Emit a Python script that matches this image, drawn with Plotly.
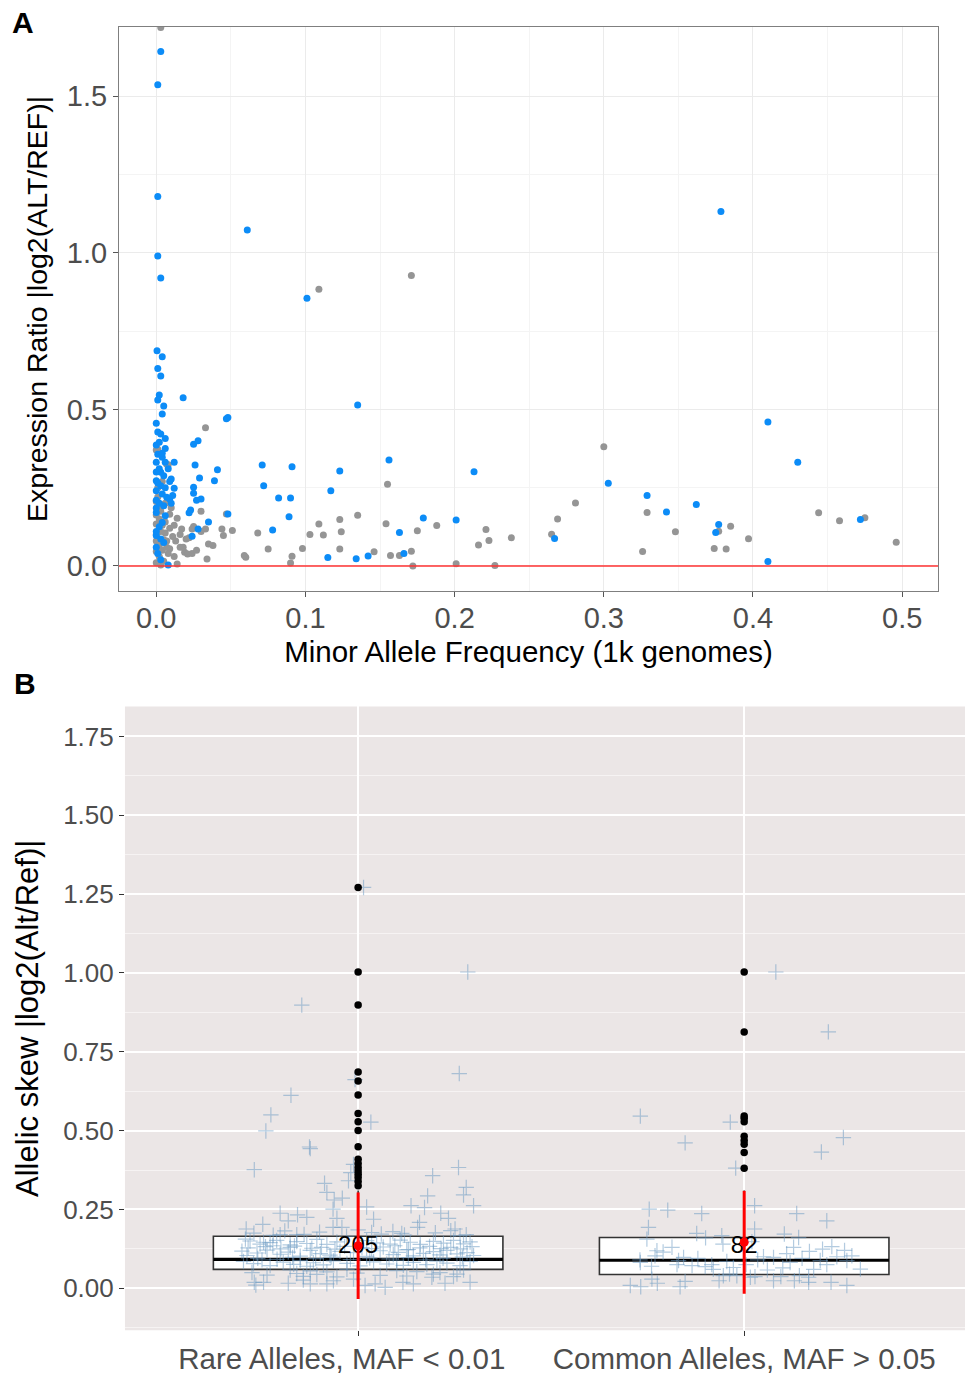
import plotly.graph_objects as go

# ---------------- Panel A data ----------------
blue_maf = [0.003, 0.001, 0.001, 0.001, 0.003, 0.061, 0.101, 0.3785,
            0.0005, 0.004, 0.001, 0.003, 0.018, 0.002, 0.001, 0.005, 0.004, 0.048, 0.047, 0.135,
            0.0, 0.001, 0.003, 0.006, 0.025, 0.028, 0.0, 0.006, 0.001, 0.004, 0.0, 0.006, 0.012, 0.026,
            0.071, 0.091, 0.041, 0.123, 0.156, 0.213,
            0.003, 0.005, 0.01, 0.0, 0.029, 0.039, 0.072, 0.117, 0.003, 0.025, 0.025, 0.0, 0.012, 0.004,
            0.007, 0.009, 0.0, 0.03, 0.027, 0.082, 0.09, 0.005, 0.023, 0.022, 0.048, 0.089, 0.0, 0.004,
            0.035, 0.179, 0.201, 0.028, 0.024, 0.078, 0.163, 0.0, 0.003, 0.0, 0.166, 0.115, 0.134, 0.142,
            0.008,
            0.41, 0.43, 0.303, 0.329, 0.342, 0.362, 0.377, 0.375, 0.267, 0.472, 0.41,
            0.002, 0.001, 0.006, 0.002, 0.0, 0.006, 0.002, 0.0, 0.005, 0.001, 0.003, 0.008, 0.004, 0.0,
            0.002, 0.009, 0.01, 0.011]
blue_ratio = [1.643, 1.537, 1.18, 0.99, 0.92, 1.073, 0.855, 1.132,
              0.687, 0.668, 0.631, 0.607, 0.537, 0.546, 0.53, 0.511, 0.485, 0.474, 0.47, 0.514,
              0.456, 0.428, 0.421, 0.407, 0.389, 0.40, 0.386, 0.375, 0.357, 0.347, 0.331, 0.331, 0.331, 0.322,
              0.322, 0.317, 0.307, 0.303, 0.338, 0.301,
              0.299, 0.288, 0.278, 0.272, 0.281, 0.272, 0.256, 0.24, 0.256, 0.251, 0.232, 0.24, 0.248, 0.23,
              0.219, 0.214, 0.21, 0.214, 0.21, 0.217, 0.217, 0.192, 0.179, 0.17, 0.166, 0.157, 0.171, 0.139,
              0.14, 0.153, 0.147, 0.118, 0.095, 0.115, 0.107, 0.097, 0.086, 0.06, 0.04, 0.027, 0.023, 0.032,
              0.003,
              0.46, 0.331, 0.264, 0.225, 0.172, 0.196, 0.132, 0.107, 0.088, 0.148, 0.014,
              0.31, 0.265, 0.25, 0.2, 0.185, 0.16, 0.125, 0.11, 0.075, 0.04, 0.02, 0.31, 0.36, 0.3,
              0.395, 0.27, 0.2, 0.225]

gray_maf = [0.003, 0.109, 0.171,
            0.033, 0.155, 0.001, 0.008, 0.03, 0.014, 0.017, 0.025, 0.033, 0.044, 0.051, 0.038, 0.045,
            0.034, 0.06, 0.059, 0.068, 0.075, 0.091, 0.09, 0.098, 0.103, 0.109, 0.112, 0.123, 0.124,
            0.123, 0.135, 0.146, 0.154, 0.157, 0.163, 0.171, 0.172, 0.175, 0.188, 0.201, 0.216, 0.221,
            0.223, 0.019, 0.024, 0.016, 0.014, 0.012,
            0.300, 0.281, 0.269, 0.265, 0.238, 0.227, 0.329, 0.326, 0.348, 0.374, 0.382, 0.377, 0.385,
            0.397, 0.444, 0.458, 0.475, 0.496,
            0.0, 0.007, 0.0, 0.001, 0.0, 0.0, 0.004, 0.0, 0.005, 0.001, 0.0, 0.004, 0.007, 0.009, 0.003,
            0.011, 0.009, 0.01, 0.02, 0.018, 0.021, 0.047, 0.024,
            0.002, 0.006, 0.001, 0.003, 0.0, 0.006, 0.002, 0.008, 0.005, 0.0, 0.004, 0.001, 0.006, 0.009,
            0.013, 0.016, 0.022, 0.027, 0.03, 0.035, 0.012, 0.003, 0.007, 0.002]
gray_ratio = [1.72, 0.884, 0.928,
              0.441, 0.261, 0.373, 0.323, 0.175, 0.152, 0.118, 0.126, 0.118, 0.118, 0.113, 0.065, 0.097,
              0.022, 0.028, 0.033, 0.105, 0.054, 0.031, 0.009, 0.056, 0.1, 0.134, 0.099, 0.148, 0.109,
              0.054, 0.162, 0.045, 0.135, 0.033, 0.033, 0.047, 0.0, 0.112, 0.129, 0.007, 0.067, 0.116,
              0.081, 0.044, 0.04, 0.06, 0.006, 0.03,
              0.381, 0.201, 0.15, 0.101, 0.09, 0.001, 0.171, 0.046, 0.109, 0.056, 0.054, 0.111, 0.127,
              0.087, 0.17, 0.144, 0.154, 0.076,
              0.37, 0.325, 0.206, 0.19, 0.163, 0.134, 0.13, 0.1, 0.084, 0.063, 0.046, 0.05, 0.06, 0.055, 0.003,
              0.094, 0.12, 0.186, 0.086, 0.06, 0.038, 0.166, 0.118,
              0.15, 0.14, 0.22, 0.175, 0.08, 0.105, 0.03, 0.04, 0.015, 0.01, 0.27, 0.25, 0.2, 0.165,
              0.08, 0.1, 0.09, 0.05, 0.11, 0.07, 0.13, 0.11, 0.08, 0.065]

a_xticks = [0.0, 0.1, 0.2, 0.3, 0.4, 0.5]
a_xticklabels = ["0.0", "0.1", "0.2", "0.3", "0.4", "0.5"]
a_yticks = [0.0, 0.5, 1.0, 1.5]
a_yticklabels = ["0.0", "0.5", "1.0", "1.5"]

# ---------------- Panel B data ----------------
groups = ["Rare Alleles, MAF < 0.01\u00a0\u00a0\u00a0\u00a0", "Common Alleles, MAF > 0.05"]
group_pos = [1, 2]
group_n = ["205", "82"]
label_y = [0.13, 0.13]
box_q1 = [0.060, 0.044]
box_median = [0.092, 0.089]
box_q3 = [0.165, 0.161]
box_lower = [0.0, 0.0]
box_upper = [0.31, 0.31]
mean_val = [0.135, 0.146]
sd_val = [0.169, 0.163]

rare_outliers = [1.271, 1.003, 0.898, 0.686, 0.657, 0.613, 0.554, 0.528, 0.50, 0.449,
                 0.409, 0.396, 0.383, 0.372, 0.362, 0.351, 0.339, 0.325]
common_outliers = [1.003, 0.813, 0.546, 0.539, 0.528, 0.482, 0.469, 0.457, 0.431, 0.381]

rare_jit_x = [-0.269, -0.124, -0.087, -0.081, -0.062, -0.041, -0.065, -0.055, -0.065, -0.042,
              -0.025, -0.019, -0.012, 0.022, 0.04, 0.035, 0.193, 0.26, 0.28, 0.273,
              0.299, 0.18, 0.137, 0.172, 0.214, 0.234, 0.159, 0.154, 0.251, 0.264,
              0.113, -0.202, -0.181, -0.157, -0.133, -0.247, -0.29, -0.292, -0.245, -0.221,
              -0.202, -0.159, -0.176,
              -0.269, -0.265, -0.245, -0.181, -0.142, -0.124, -0.081, -0.064, -0.012, 0.018,
              0.044, 0.07, 0.116, 0.143, 0.225, 0.29, 0.191, 0.256,
              -0.174, -0.226, -0.239, -0.126, 0.262, 0.033, -0.008, -0.146, 0.284, 0.014,
              -0.28, -0.254, -0.228, -0.211, -0.176, -0.159, -0.133, -0.107, -0.081, -0.055,
              0.022, 0.048, 0.083, 0.109, 0.135, 0.161, 0.195, 0.221, 0.247, 0.273, 0.29,
              -0.301, -0.288, -0.262, -0.236, -0.202, -0.181, -0.15, -0.124, -0.098, -0.073,
              -0.047, -0.012, 0.022, 0.057, 0.091, 0.104, 0.126, 0.143, 0.169, 0.195,
              0.212, 0.23, 0.256, 0.282, 0.299,
              -0.297, -0.271, -0.249, -0.228, -0.194, -0.167, -0.15, -0.133, -0.116, -0.09,
              -0.064, -0.029, 0.005, 0.04, 0.074, 0.1, 0.117, 0.143, 0.178, 0.204, 0.23, 0.264, 0.29,
              -0.275, -0.236, -0.176, -0.159, -0.142, -0.124, -0.107, -0.081, -0.055, -0.029,
              -0.003, 0.057, 0.1, 0.126, 0.152, 0.195, 0.212, 0.247, 0.273,
              -0.27, -0.22, -0.19, -0.14, -0.1, -0.03, 0.0, 0.06, 0.09, 0.12, 0.2, 0.24, 0.28,
              -0.285, -0.24, -0.2, -0.165, -0.12, -0.095, -0.06, -0.035, 0.01, 0.035,
              0.065, 0.095, 0.13, 0.16, 0.185, 0.215, 0.24, 0.265, 0.295,
              -0.26, -0.21, -0.17, -0.11, -0.07, -0.02, 0.03, 0.08, 0.13, 0.175, 0.22, 0.27]
rare_jit_y = [0.376, 0.443, 0.333, 0.304, 0.28, 0.286, 0.251, 0.222, 0.193, 0.193,
              0.341, 0.367, 0.393, 0.258, 0.219, 0.177, 0.357, 0.383, 0.32, 0.296,
              0.262, 0.293, 0.262, 0.256, 0.238, 0.222, 0.209, 0.193, 0.188, 0.167,
              0.174, 0.238, 0.214, 0.233, 0.225, 0.203, 0.188, 0.156, 0.146, 0.135,
              0.17, 0.17, 0.13,
              0.019, 0.01, 0.019, 0.016, 0.026, 0.014, 0.014, 0.024, 0.029, 0.009,
              0.014, 0.003, 0.019, 0.014, 0.016, 0.019, 0.035, 0.045,
              0.612, 0.55, 0.499, 0.448, 0.681, 0.527, 0.662, 0.898, 1.003, 1.271,
              0.15, 0.14, 0.145, 0.152, 0.138, 0.148, 0.142, 0.155, 0.139, 0.147,
              0.151, 0.144, 0.14, 0.153, 0.146, 0.139, 0.149, 0.143, 0.152, 0.141, 0.147,
              0.118, 0.104, 0.112, 0.121, 0.108, 0.115, 0.102, 0.12, 0.11, 0.105,
              0.117, 0.113, 0.101, 0.119, 0.107, 0.114, 0.122, 0.103, 0.111, 0.116,
              0.106, 0.12, 0.109, 0.113, 0.104,
              0.085, 0.078, 0.09, 0.072, 0.083, 0.076, 0.088, 0.07, 0.081, 0.074,
              0.087, 0.079, 0.071, 0.084, 0.077, 0.089, 0.073, 0.082, 0.075, 0.086, 0.08, 0.072, 0.085,
              0.05, 0.042, 0.058, 0.047, 0.038, 0.055, 0.044, 0.052, 0.036, 0.06,
              0.048, 0.041, 0.056, 0.039, 0.053, 0.045, 0.05, 0.037, 0.058,
              0.175, 0.168, 0.182, 0.171, 0.178, 0.165, 0.185, 0.172, 0.18, 0.169, 0.176, 0.183, 0.17,
              0.128, 0.132, 0.125, 0.134, 0.127, 0.13, 0.124, 0.133, 0.129, 0.126,
              0.131, 0.135, 0.123, 0.128, 0.133, 0.126, 0.13, 0.125, 0.132,
              0.095, 0.092, 0.098, 0.094, 0.099, 0.091, 0.096, 0.093, 0.097, 0.09, 0.095, 0.099]

common_jit_x = [0.218, 0.082, -0.269, -0.153, -0.036, -0.022, 0.257, 0.2,
                -0.246, -0.198, -0.11, 0.027, 0.136, 0.214, -0.248, -0.252, -0.123, -0.058,
                0.027, 0.104, 0.141, -0.226, -0.187, -0.231, 0.128, 0.169, 0.203, 0.227,
                -0.269, -0.157, -0.135, -0.174, -0.101, -0.084, -0.028, 0.05, 0.076, 0.119,
                0.197, 0.214, 0.266, 0.279, 0.301, -0.295, -0.268, -0.239, -0.225, -0.166,
                -0.153, -0.065, -0.054, -0.038, -0.019, 0.016, 0.076, 0.095, 0.13, 0.143,
                0.167, 0.167, 0.225, 0.266, 0.028,
                -0.27, -0.21, -0.17, -0.12, -0.08, -0.045, 0.005, 0.035, 0.06, 0.1,
                0.15, 0.18, 0.24, 0.26, -0.1, -0.055, 0.02, 0.11, -0.24]
common_jit_y = [0.813, 1.003, 0.546, 0.461, 0.527, 0.381, 0.478, 0.432,
                0.251, 0.248, 0.237, 0.262, 0.237, 0.214, 0.193, 0.156, 0.174, 0.167,
                0.188, 0.172, 0.161, 0.119, 0.13, 0.103, 0.13, 0.117, 0.124, 0.132,
                0.082, 0.098, 0.072, 0.075, 0.069, 0.075, 0.066, 0.1, 0.098, 0.082,
                0.088, 0.075, 0.088, 0.103, 0.061, 0.009, 0.005, 0.029, 0.016, 0.005,
                0.022, 0.024, 0.04, 0.045, 0.04, 0.035, 0.024, 0.037, 0.024, 0.04,
                0.035, 0.019, 0.019, 0.009, 0.037,
                0.09, 0.115, 0.088, 0.095, 0.06, 0.085, 0.075, 0.09, 0.058, 0.065,
                0.095, 0.06, 0.1, 0.12, 0.16, 0.14, 0.148, 0.11, 0.07]

b_yticks = [0.0, 0.25, 0.5, 0.75, 1.0, 1.25, 1.5, 1.75]
b_yticklabels = ["0.00", "0.25", "0.50", "0.75", "1.00", "1.25", "1.50", "1.75"]

FONT = "Liberation Sans"
TICKCOL = "#4D4D4D"
BOX_WIDTH = 0.75
CROSS_COL = "rgba(110,155,195,0.52)"

fig = go.Figure()

# ---- Panel A ----
fig.add_trace(go.Scatter(x=gray_maf, y=gray_ratio, mode="markers",
                         marker=dict(color="#959595", size=7), xaxis="x", yaxis="y",
                         showlegend=False, cliponaxis=True))
fig.add_trace(go.Scatter(x=blue_maf, y=blue_ratio, mode="markers",
                         marker=dict(color="#0C8CF7", size=7), xaxis="x", yaxis="y",
                         showlegend=False, cliponaxis=True))

# ---- Panel B ----
fig.add_trace(go.Box(x=group_pos, q1=box_q1, median=box_median, q3=box_q3,
                     lowerfence=box_lower, upperfence=box_upper, width=BOX_WIDTH,
                     fillcolor="white", line=dict(color="#333333", width=1.6),
                     whiskerwidth=0, boxpoints=False, xaxis="x2", yaxis="y2",
                     showlegend=False, hoverinfo="skip"))
for i, p in enumerate(group_pos):
    fig.add_trace(go.Scatter(x=[p - BOX_WIDTH / 2, p + BOX_WIDTH / 2],
                             y=[box_median[i], box_median[i]], mode="lines",
                             line=dict(color="black", width=3.2), xaxis="x2", yaxis="y2",
                             showlegend=False, hoverinfo="skip"))

fig.add_trace(go.Scatter(x=[group_pos[0] + v for v in rare_jit_x], y=rare_jit_y, mode="markers",
                         marker=dict(symbol="cross-thin", size=11,
                                     line=dict(width=1.2, color=CROSS_COL)),
                         xaxis="x2", yaxis="y2", showlegend=False))
fig.add_trace(go.Scatter(x=[group_pos[1] + v for v in common_jit_x], y=common_jit_y, mode="markers",
                         marker=dict(symbol="cross-thin", size=11,
                                     line=dict(width=1.2, color=CROSS_COL)),
                         xaxis="x2", yaxis="y2", showlegend=False))

fig.add_trace(go.Scatter(x=[group_pos[0]] * len(rare_outliers) + [group_pos[1]] * len(common_outliers),
                         y=rare_outliers + common_outliers, mode="markers",
                         marker=dict(color="black", size=7.5), xaxis="x2", yaxis="y2",
                         showlegend=False))

fig.add_trace(go.Scatter(x=group_pos, y=label_y, mode="text", text=group_n,
                         textfont=dict(family=FONT, size=24, color="black"),
                         xaxis="x2", yaxis="y2", showlegend=False))

fig.add_trace(go.Scatter(x=group_pos, y=mean_val, mode="markers",
                         marker=dict(color="red", size=9),
                         error_y=dict(type="data", array=sd_val, color="red", thickness=3, width=0),
                         xaxis="x2", yaxis="y2", showlegend=False))

# background of panel B
fig.add_shape(type="rect", xref="x2 domain", yref="y2 domain", x0=0, x1=1, y0=0, y1=1,
              fillcolor="#EBE6E6", line=dict(width=0), layer="below")
# red zero line in panel A
fig.add_shape(type="line", xref="x domain", yref="y", x0=0, x1=1, y0=0, y1=0,
              line=dict(color="#FF3333", width=1.5))

fig.update_layout(
    width=965, height=1375,
    margin=dict(l=0, r=0, t=0, b=0),
    paper_bgcolor="white", plot_bgcolor="white",
    font=dict(family=FONT, color="black"),
    xaxis=dict(domain=[0.1233, 0.972], range=[-0.025, 0.524], anchor="y",
               tickmode="array", tickvals=a_xticks, ticktext=a_xticklabels,
               ticks="outside", ticklen=5, tickcolor="#555555",
               tickfont=dict(size=29, color=TICKCOL), ticklabelstandoff=-4,
               showgrid=True, gridcolor="#EBEBEB", gridwidth=1,
               minor=dict(tickmode="linear", tick0=0, dtick=0.05, showgrid=True,
                          gridcolor="#F4F4F4", gridwidth=1),
               showline=True, mirror=True, linecolor="#7F7F7F", linewidth=1.2,
               zeroline=False,
               title=dict(text="Minor Allele Frequency (1k genomes)",
                          font=dict(size=29.5, color="black"), standoff=8)),
    yaxis=dict(domain=[0.568, 0.9804], range=[-0.08, 1.722], anchor="x",
               tickmode="array", tickvals=a_yticks, ticktext=a_yticklabels,
               ticks="outside", ticklen=5, tickcolor="#555555",
               tickfont=dict(size=29, color=TICKCOL),
               showgrid=True, gridcolor="#EBEBEB", gridwidth=1,
               minor=dict(tickmode="linear", tick0=0, dtick=0.25, showgrid=True,
                          gridcolor="#F4F4F4", gridwidth=1),
               showline=True, mirror=True, linecolor="#7F7F7F", linewidth=1.2,
               zeroline=False,
               title=dict(text="Expression Ratio |log2(ALT/REF)|",
                          font=dict(size=28.5, color="black"), standoff=10)),
    xaxis2=dict(domain=[0.1295, 1.0], range=[0.396, 2.572], anchor="y2",
                tickmode="array", tickvals=group_pos, ticktext=groups,
                ticks="outside", ticklen=5, tickcolor="#333333",
                tickfont=dict(size=29.5, color=TICKCOL), ticklabelstandoff=-3,
                showgrid=True, gridcolor="white", gridwidth=1.5,
                showline=False, zeroline=False),
    yaxis2=dict(domain=[0.0276, 0.4836], range=[-0.133, 1.845], anchor="x2",
                tickmode="array", tickvals=b_yticks, ticktext=b_yticklabels,
                ticks="outside", ticklen=5, tickcolor="#333333",
                tickfont=dict(size=26, color=TICKCOL),
                showgrid=True, gridcolor="white", gridwidth=1.8,
                minor=dict(tickmode="linear", tick0=0, dtick=0.125, showgrid=True,
                           gridcolor="#F6F3F3", gridwidth=1, ticks=""),
                showline=False, zeroline=False,
                title=dict(text="Allelic skew |log2(Alt/Ref)|",
                           font=dict(size=31, color="black"), standoff=15)),
    annotations=[
        dict(text="<b>A</b>", x=0.010, y=0.997, xref="paper", yref="paper",
             xanchor="left", yanchor="top", showarrow=False,
             font=dict(family=FONT, size=30, color="black")),
        dict(text="<b>B</b>", x=0.012, y=0.514, xref="paper", yref="paper",
             xanchor="left", yanchor="top", showarrow=False,
             font=dict(family=FONT, size=30, color="black")),
    ],
)

fig.write_html("out.html", config={"displayModeBar": False},
               post_script="document.body.style.margin='0';document.body.style.overflow='hidden';")
